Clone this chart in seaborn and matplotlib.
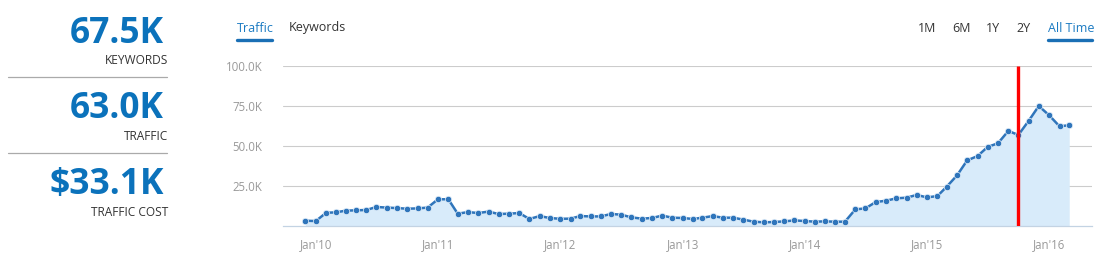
import pandas as pd
import numpy as np
import matplotlib
matplotlib.use("Agg")
import matplotlib.pyplot as plt
import matplotlib.dates as mdates
from matplotlib.lines import Line2D
import seaborn as sns

# monthly traffic, Dec 2009 .. Mar 2016 (thousands)
months = pd.date_range("2009-12-01", "2016-03-01", freq="MS")
traffic_k = [
    3.3,
    3.1, 8.3, 8.5, 9.6, 9.8, 10.0, 11.9, 11.5, 11.2, 10.8, 11.0, 11.5,
    16.7, 16.7, 7.7, 8.7, 8.1, 9.0, 7.5, 7.7, 8.1, 4.4, 6.2, 5.0,
    4.5, 4.6, 6.2, 6.0, 6.0, 7.5, 7.1, 5.4, 4.6, 5.0, 6.5, 5.2,
    5.0, 4.4, 5.2, 6.2, 5.2, 5.2, 4.0, 2.7, 2.3, 2.5, 2.9, 3.5,
    3.1, 2.7, 2.9, 2.7, 2.7, 10.4, 11.0, 15.0, 15.8, 17.3, 17.7, 19.4,
    17.9, 18.7, 24.6, 31.7, 41.0, 43.7, 49.4, 51.7, 59.4, 56.9, 65.8, 75.0,
    69.2, 62.3, 63.0,
]
marker_date = pd.Timestamp("2015-10-01")

stat_values = ["67.5K", "63.0K", "$33.1K"]
stat_labels = ["KEYWORDS", "TRAFFIC", "TRAFFIC COST"]
tabs_left = ["Traffic", "Keywords"]
tabs_right = ["1M", "6M", "1Y", "2Y", "All Time"]
ytick_vals = [25, 50, 75, 100]
ytick_labels = ["25.0K", "50.0K", "75.0K", "100.0K"]

df = pd.DataFrame({"month": months, "traffic": traffic_k})

sns.set_style("white")
plt.rcParams["font.family"] = ["Open Sans", "DejaVu Sans"]

W, H = 1109, 275
fig = plt.figure(figsize=(W / 100, H / 100), dpi=100)


def fx(px):
    return px / W


def fy(py):
    return 1 - py / H


blue = "#0b72bb"
dark = "#333333"
gray = "#999999"

# left summary panel
val_y = [34, 109, 185]
lab_y = [61, 137, 213]
for v, l, vy, ly in zip(stat_values, stat_labels, val_y, lab_y):
    fig.text(fx(164), fy(vy), v, ha="right", va="center", fontsize=25.5,
             fontweight="bold", color=blue)
    fig.text(fx(168), fy(ly), l, ha="right", va="center", fontsize=8.6,
             color=dark)
for sy in [77, 153]:
    fig.add_artist(Line2D([fx(8), fx(167)], [fy(sy), fy(sy)], color="#aaaaaa", lw=0.9))

# tabs
fig.text(fx(237), fy(28), tabs_left[0], ha="left", va="center", fontsize=9, color="#1a7ac2")
fig.text(fx(289), fy(28), tabs_left[1], ha="left", va="center", fontsize=9, color=dark)
fig.add_artist(Line2D([fx(237), fx(272)], [fy(40), fy(40)], color="#1a6fb5", lw=2.4))
right_x = [918, 952, 986, 1016, 1048]
for t, x in zip(tabs_right, right_x):
    c = "#1a7ac2" if t == "All Time" else dark
    fig.text(fx(x), fy(28), t, ha="left", va="center", fontsize=9, color=c)
fig.add_artist(Line2D([fx(1048), fx(1092)], [fy(40), fy(40)], color="#1a6fb5", lw=2.4))

# chart
ax = fig.add_axes([fx(283), fy(226), (1092 - 283) / W, (226 - 66) / H])
ax.fill_between(df["month"], df["traffic"], 0, color="#d8ebfa", lw=0)
sns.lineplot(data=df, x="month", y="traffic", ax=ax, color="#2f75bb", lw=1.8,
             marker="o", markersize=4.6, markeredgecolor="#e8f2fb",
             markeredgewidth=0.5)
ax.vlines(marker_date, 0, 100, color="#ff0000", lw=2.4, zorder=5)

ax.set_xlim(pd.Timestamp("2009-09-25"), pd.Timestamp("2016-05-08"))
ax.set_ylim(0, 100)
ax.set_yticks(ytick_vals)
ax.set_yticklabels(ytick_labels)
ax.xaxis.set_major_locator(mdates.YearLocator())
ax.xaxis.set_major_formatter(mdates.DateFormatter("Jan'%y"))
ax.tick_params(axis="both", length=0, labelsize=8.3, labelcolor=gray)
ax.tick_params(axis="y", pad=15)
ax.tick_params(axis="x", pad=9)
ax.set_xlabel("")
ax.set_ylabel("")
ax.grid(axis="y", color="#cccccc", lw=0.8)
ax.grid(axis="x", visible=False)
for s in ["top", "right", "left"]:
    ax.spines[s].set_visible(False)
ax.spines["bottom"].set_color("#c3d3e3")
ax.spines["bottom"].set_linewidth(0.9)
ax.set_axisbelow(True)

fig.savefig("out.png", dpi=100)
